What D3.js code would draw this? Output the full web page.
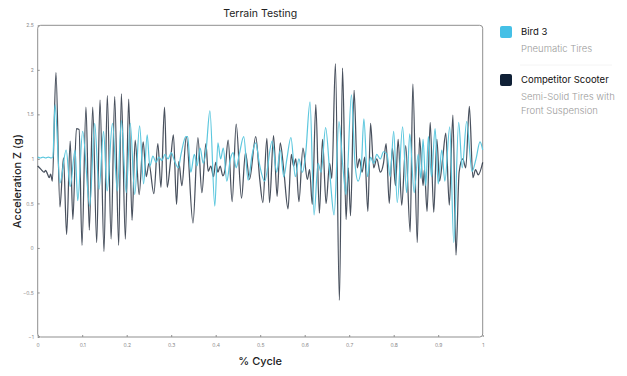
<!DOCTYPE html>
<html><head><meta charset="utf-8">
<script src="https://cdn.jsdelivr.net/npm/d3@7/dist/d3.min.js"></script>
<style>
html,body{margin:0;padding:0;background:#fff;}
svg{display:block;font-family:Inter,"Noto Sans",sans-serif;}
</style></head>
<body>
<svg id="chart" width="627" height="376"></svg>
<script>
// ---- data ----
const chartTitle = "Terrain Testing";
const xTitle = "% Cycle";
const yTitle = "Acceleration Z (g)";
const xTicks = [0,0.1,0.2,0.3,0.4,0.5,0.6,0.7,0.8,0.9,1];
const yTicks = [-1,-0.5,0,0.5,1,1.5,2,2.5];
const seriesNames = ["Bird 3","Competitor Scooter"];
const seriesNotes = [["Pneumatic Tires"],["Semi-Solid Tires with","Front Suspension"]];

const competitorCycle = [0,.008,.014,.018,.022,.026,.029,.033,.041,.050,.058,.065,.073,.079,.087,.093,.0995,.1085,.116,.1236,.1326,.140,.149,.1564,.165,.173,.182,.188,.197,.2045,.212,.219,.228,.237,.244,.250,.261,.270,.277,.285,.291,.298,.305,.312,.317,.324,.334,.349,.360,.369,.378,.383,.389,.395,.400,.405,.410,.416,.421,.428,.437,.446,.458,.467,.476,.490,.499,.506,.515,.521,.530,.538,.545,.553,.5625,.570,.575,.580,.587,.596,.606,.611,.617,.625,.633,.640,.648,.656,.661,.669,.678,.685,.693,.698,.703,.711,.718,.723,.729,.735,.742,.748,.755,.762,.770,.777,.783,.790,.797,.804,.810,.818,.827,.837,.843,.853,.858,.866,.869,.875,.882,.890,.897,.903,.910,.917,.925,.933,.940,.947,.955,.962,.970,.978,.984,.990,1];
const competitorAccel = [.92,.88,.85,.87,.83,.79,.83,.75,1.97,.46,1.01,.15,1.20,.32,1.34,1.33,.03,1.58,.20,1.58,.06,1.66,-.04,1.71,.10,1.70,.03,1.73,.10,1.67,.31,1.21,.60,1.19,.80,.95,.61,1.17,.68,1.58,.68,.95,1.27,.49,.97,.70,1.25,.28,1.24,.62,1.17,.86,.92,.80,.96,.85,.92,.81,.88,1.21,.52,1.39,.56,1.07,.77,1.25,.77,.51,1.23,.51,1.26,.58,1.18,.87,.44,1.05,.92,1.00,.52,1.12,.77,.88,.49,1.61,.39,1.22,.50,.95,.78,2.07,-.59,2.02,.32,.90,.36,1.77,.90,1.00,.85,1.02,.41,1.40,.90,1.00,.85,.95,1.17,.50,1.12,.70,1.22,.48,1.15,.18,1.84,.06,1.24,.70,.88,.41,1.41,.40,1.22,.75,1.00,1.29,.48,1.49,-.08,.85,1.00,.90,1.59,.79,.88,.82,.96];

const birdCycle = [0,.006,.012,.018,.024,.030,.034,.039,.050,.064,.073,.084,.090,.101,.117,.128,.138,.148,.156,.168,.179,.188,.199,.208,.218,.229,.238,.246,.252,.259,.266,.272,.279,.286,.293,.300,.308,.316,.322,.333,.337,.344,.352,.358,.365,.372,.378,.387,.398,.405,.411,.417,.425,.433,.439,.446,.453,.463,.473,.482,.490,.498,.510,.527,.537,.545,.553,.560,.569,.579,.587,.595,.602,.612,.621,.630,.637,.647,.657,.666,.677,.686,.693,.705,.713,.720,.727,.733,.741,.748,.755,.762,.770,.777,.785,.792,.800,.808,.820,.829,.836,.846,.855,.861,.866,.872,.878,.885,.893,.900,.908,.915,.926,.935,.946,.954,.964,.976,.985,.994,1];
const birdAccel = [1.02,1.01,1.02,1.01,1.02,1.01,1.02,1.61,.73,1.10,.69,1.10,.53,1.31,.47,1.40,.66,1.31,.64,1.40,.64,1.43,.62,1.40,.60,1.37,.72,1.27,.92,1.03,.96,1.02,.98,1.05,1.00,1.07,.97,.90,1.05,1.25,1.25,.85,1.05,.92,1.12,.95,1.08,1.54,.47,1.18,1.00,1.12,.75,1.00,1.07,.90,1.05,1.25,.76,1.05,1.18,.95,.75,1.20,.85,1.10,.80,1.00,1.24,.80,1.00,.85,1.05,1.64,.37,.95,.85,1.35,.80,.37,1.42,.90,.60,1.72,.95,.75,.90,1.45,.80,1.02,.95,1.05,1.00,1.08,1.05,.80,1.31,.51,1.36,.62,1.28,.62,1.05,.78,1.22,.70,1.25,.80,1.34,.72,1.10,.75,1.36,.06,1.41,.90,1.42,.86,1.00,1.19,1.10];

// ---- drawing ----
const svg = d3.select("#chart");
const plotLeft = 37.7, plotRight = 482.7, plotTop = 25.3, plotBottom = 337;
const x = d3.scaleLinear().domain([0,1]).range([plotLeft,plotRight]);
const y = d3.scaleLinear().domain([-1,2.5]).range([plotBottom,plotTop]);
const colors = ["#5cc7de","#1c2536"];
const legendColors = ["#45c0e6","#0f2036"];

// frame
svg.append("rect").attr("x",plotLeft).attr("y",plotTop).attr("width",plotRight-plotLeft).attr("height",plotBottom-plotTop)
  .attr("rx",3).attr("fill","none").attr("stroke","#8f8f8f").attr("stroke-width",1);

// axes
const xAxis = svg.append("g").attr("transform",`translate(0,${plotBottom})`)
  .call(d3.axisBottom(x).tickValues(xTicks).tickSize(-2).tickPadding(6).tickFormat(d3.format("")));
const yAxis = svg.append("g").attr("transform",`translate(${plotLeft},0)`)
  .call(d3.axisLeft(y).tickValues(yTicks).tickSize(-2).tickPadding(4).tickFormat(d3.format("")));
[xAxis,yAxis].forEach(a=>{
  a.select(".domain").remove();
  a.selectAll(".tick line").attr("stroke","#8f8f8f");
  a.selectAll(".tick text").attr("fill","#8a8a8a").attr("font-size",5).attr("font-family","Inter,sans-serif");
});

// lines
const line = d3.line().x(d=>x(d[0])).y(d=>y(d[1])).curve(d3.curveMonotoneX);
const compData = competitorCycle.map((c,i)=>[c,competitorAccel[i]]);
const birdData = birdCycle.map((c,i)=>[c,birdAccel[i]]);
svg.append("path").datum(compData).attr("d",line).attr("fill","none")
  .attr("stroke",colors[1]).attr("stroke-opacity",0.8).attr("stroke-width",1.25);
svg.append("path").datum(birdData).attr("d",line).attr("fill","none")
  .attr("stroke",colors[0]).attr("stroke-width",1.2);

// titles
svg.append("text").attr("x",(plotLeft+plotRight)/2).attr("y",17).attr("text-anchor","middle")
  .attr("font-size",10.5).attr("font-weight",400).attr("fill","#222").text(chartTitle);
svg.append("text").attr("x",(plotLeft+plotRight)/2).attr("y",365).attr("text-anchor","middle")
  .attr("font-size",11).attr("font-weight",500).attr("fill","#222").text(xTitle);
svg.append("text").attr("transform",`translate(21,${(plotTop+plotBottom)/2}) rotate(-90)`).attr("text-anchor","middle")
  .attr("font-size",11).attr("font-weight",500).attr("fill","#222").text(yTitle);

// legend
const legY = [26,74];
seriesNames.forEach((name,i)=>{
  const g = svg.append("g").attr("transform",`translate(500,${legY[i]})`);
  g.append("rect").attr("width",12).attr("height",12).attr("rx",2).attr("fill",legendColors[i]);
  g.append("text").attr("x",21).attr("y",9).attr("font-size",9.5).attr("font-weight",400).attr("fill","#111").text(name);
  seriesNotes[i].forEach((t,j)=>{
    g.append("text").attr("x",21).attr("y",26+j*13.5).attr("font-size",9.5).attr("font-weight",300).attr("fill","#9a9a9a").text(t);
  });
});
svg.append("line").attr("x1",520).attr("x2",612).attr("y1",65).attr("y2",65).attr("stroke","#f4f4f4");
</script>
</body></html>
